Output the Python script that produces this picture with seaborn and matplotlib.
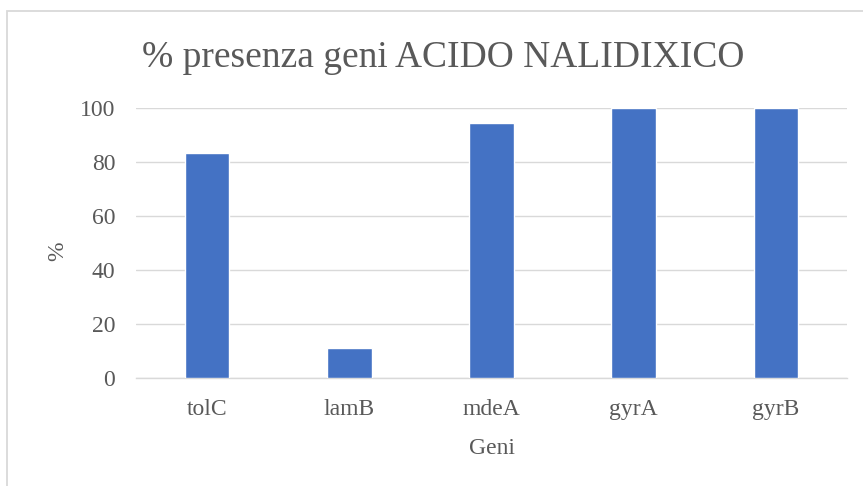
import matplotlib
matplotlib.use("Agg")
import matplotlib.pyplot as plt
from matplotlib.patches import Rectangle
import seaborn as sns
import pandas as pd

# Gene presence (%) among nalidixic-acid isolates
genes = ["tolC", "lamB", "mdeA", "gyrA", "gyrB"]
presence = [83.3, 11.1, 94.4, 100.0, 100.0]
y_ticks = [0, 20, 40, 60, 80, 100]

title = "% presenza geni ACIDO NALIDIXICO"
x_label = "Geni"
y_label = "%"

sns.set_theme(style="white")
plt.rcParams["font.family"] = ["Liberation Serif", "DejaVu Serif"]

text_color = "#595959"
grid_color = "#D9D9D9"
bar_color = "#4472C4"

W, H = 863, 486
fig = plt.figure(figsize=(W / 100, H / 100), dpi=100)
fig.patch.set_facecolor("white")

# chart frame (light gray border)
fig.patches.append(Rectangle((7 / W, -0.1), 1.2, (H - 11) / H + 0.1,
                             transform=fig.transFigure, fill=False,
                             edgecolor=grid_color, linewidth=1.3))

ax = fig.add_axes([136 / W, (H - 378.3) / H, (847 - 136) / W, (378.3 - 107.7) / H])

df = pd.DataFrame({"gene": genes, "presence": presence})
sns.barplot(data=df, x="gene", y="presence", color=bar_color, width=0.313,
            saturation=1, ax=ax, zorder=3)

ax.set_ylim(0, 100)
ax.set_xlim(-0.5, len(genes) - 0.5)
ax.set_yticks(y_ticks)
ax.yaxis.grid(True, color=grid_color, linewidth=1.0, zorder=0)
ax.set_axisbelow(True)
for side in ["top", "right", "left"]:
    ax.spines[side].set_visible(False)
ax.spines["bottom"].set_color(grid_color)
ax.spines["bottom"].set_linewidth(1.0)
ax.spines["bottom"].set_zorder(1)

ax.tick_params(axis="both", length=0, labelsize=17, labelcolor=text_color)
ax.tick_params(axis="y", pad=15)
ax.tick_params(axis="x", pad=15)

ax.set_xlabel(x_label, fontsize=17, color=text_color, labelpad=13)
ax.set_ylabel(y_label, fontsize=17, color=text_color)
ax.yaxis.set_label_coords(-0.0956, 0.47)

fig.text(443 / W, 1 - 66.7 / H, title, ha="center", va="baseline",
         fontsize=27, color=text_color)

fig.savefig("out.png", dpi=100, facecolor="white")
